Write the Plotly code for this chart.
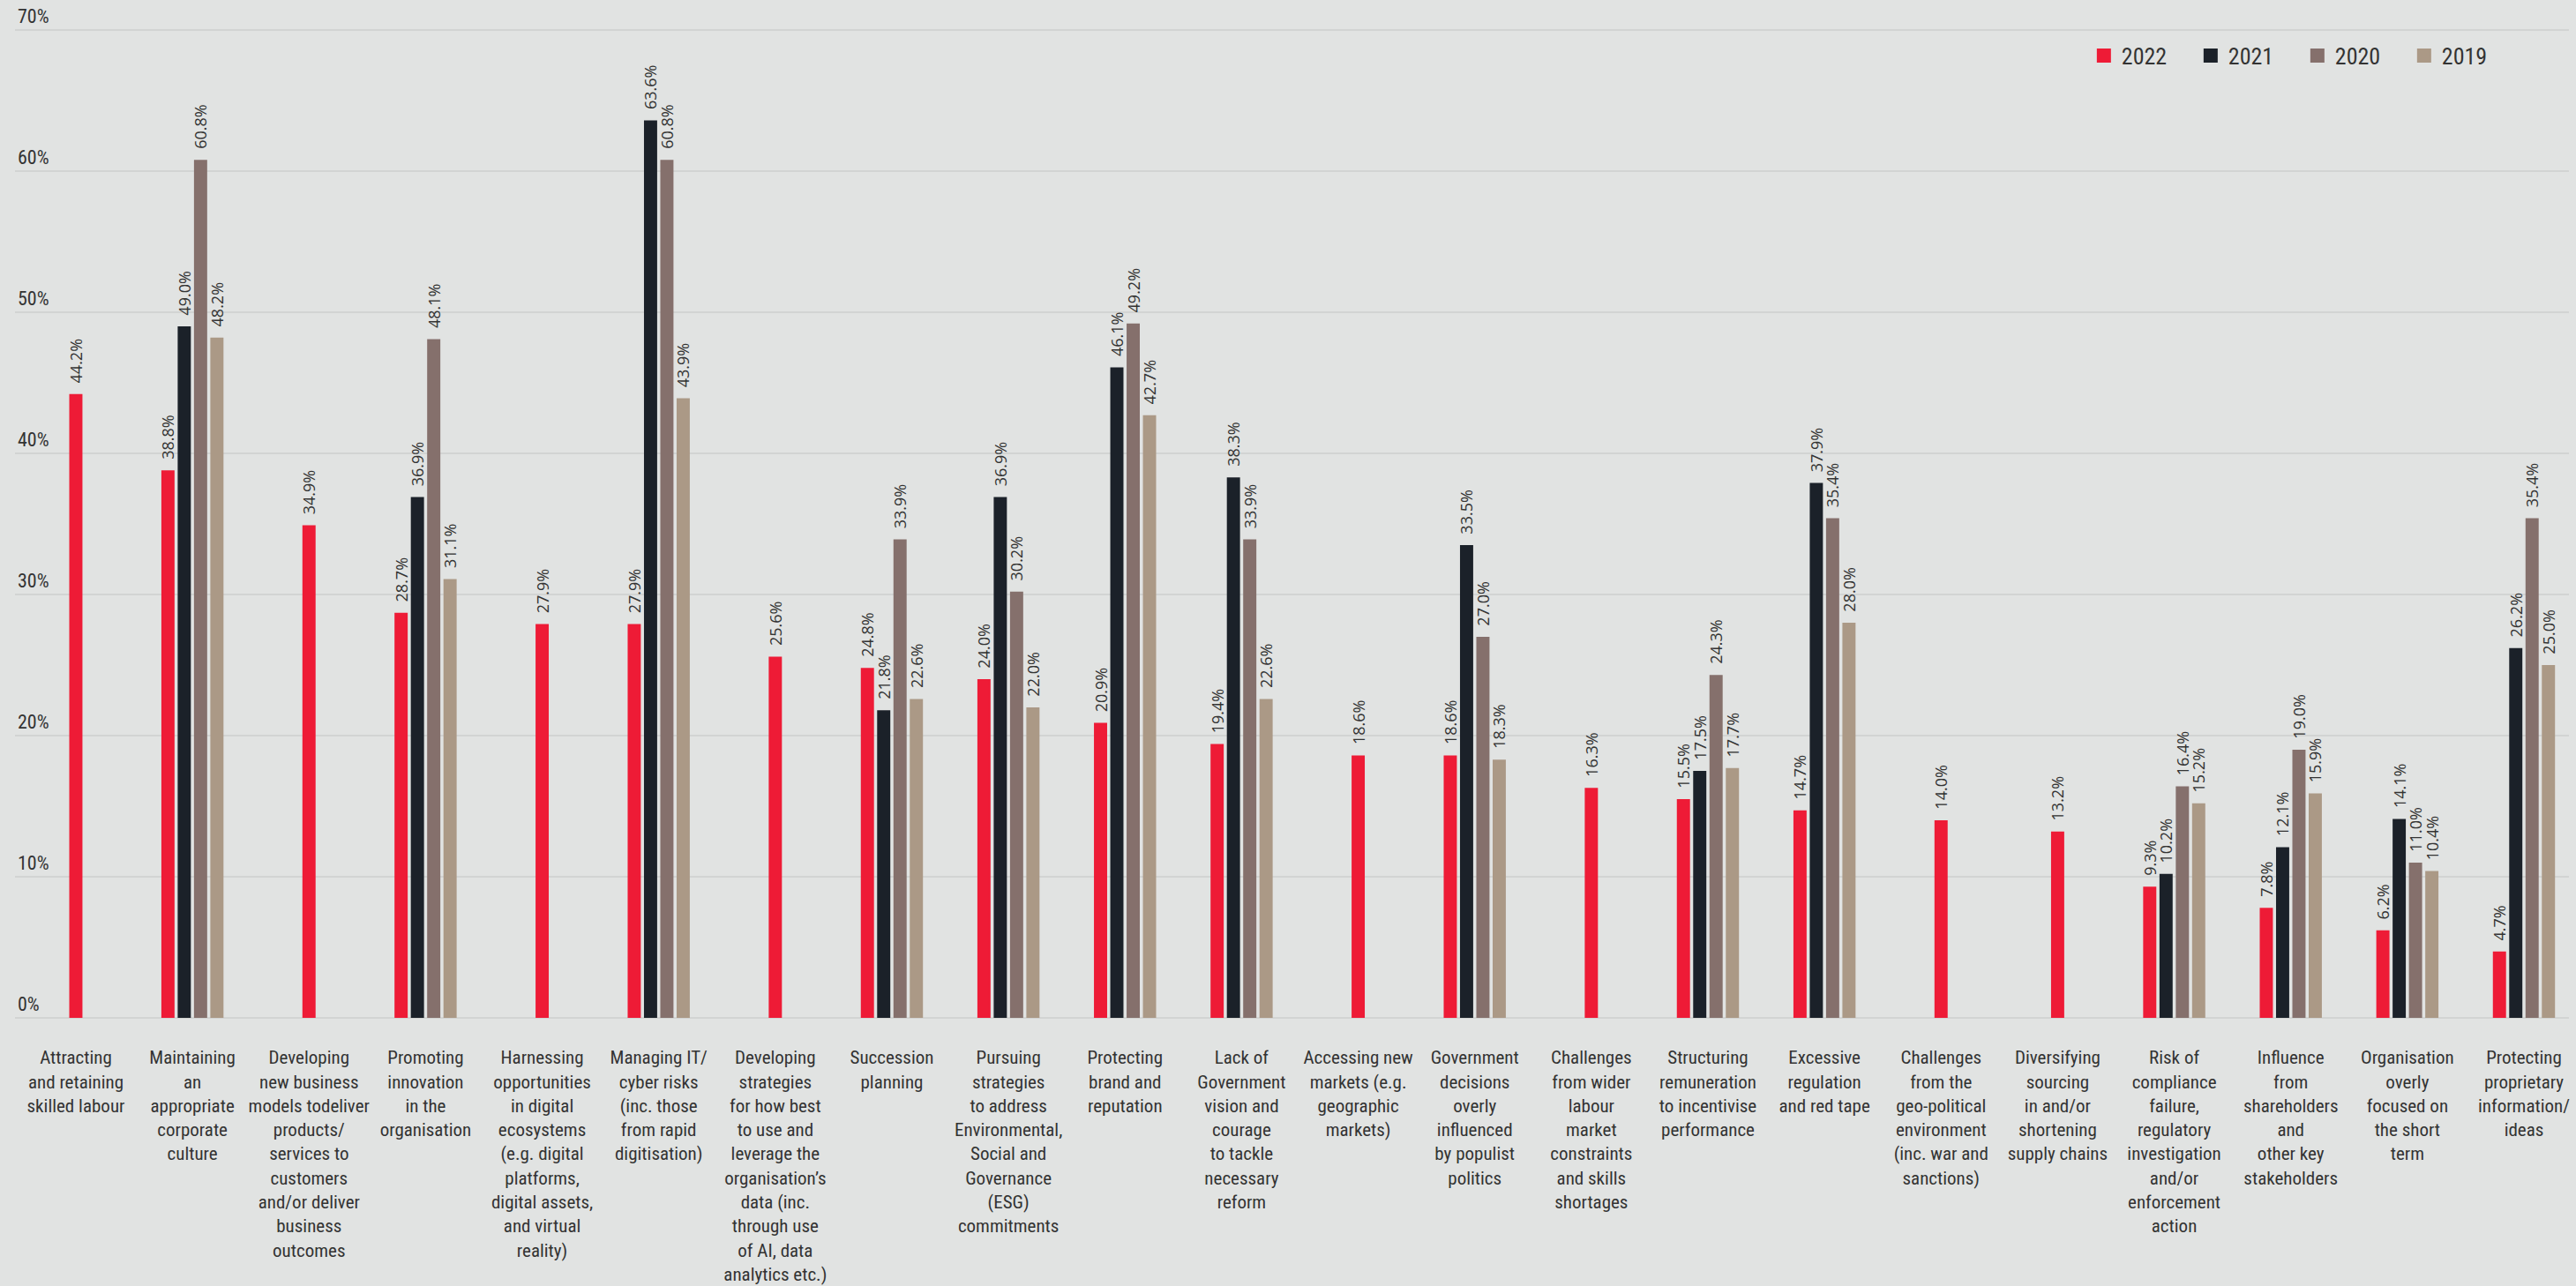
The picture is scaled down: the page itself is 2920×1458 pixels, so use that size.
import plotly.graph_objects as go

categories = [
    "Attracting<br>and retaining<br>skilled labour",
    "Maintaining<br>an<br>appropriate<br>corporate<br>culture",
    "Developing<br>new business<br>models todeliver<br>products/<br>services to<br>customers<br>and/or deliver<br>business<br>outcomes",
    "Promoting<br>innovation<br>in the<br>organisation",
    "Harnessing<br>opportunities<br>in digital<br>ecosystems<br>(e.g. digital<br>platforms,<br>digital assets,<br>and virtual<br>reality)",
    "Managing IT/<br>cyber risks<br>(inc. those<br>from rapid<br>digitisation)",
    "Developing<br>strategies<br>for how best<br>to use and<br>leverage the<br>organisation’s<br>data (inc.<br>through use<br>of AI, data<br>analytics etc.)",
    "Succession<br>planning",
    "Pursuing<br>strategies<br>to address<br>Environmental,<br>Social and<br>Governance<br>(ESG)<br>commitments",
    "Protecting<br>brand and<br>reputation",
    "Lack of<br>Government<br>vision and<br>courage<br>to tackle<br>necessary<br>reform",
    "Accessing new<br>markets (e.g.<br>geographic<br>markets)",
    "Government<br>decisions<br>overly<br>influenced<br>by populist<br>politics",
    "Challenges<br>from wider<br>labour<br>market<br>constraints<br>and skills<br>shortages",
    "Structuring<br>remuneration<br>to incentivise<br>performance",
    "Excessive<br>regulation<br>and red tape",
    "Challenges<br>from the<br>geo-political<br>environment<br>(inc. war and<br>sanctions)",
    "Diversifying<br>sourcing<br>in and/or<br>shortening<br>supply chains",
    "Risk of<br>compliance<br>failure,<br>regulatory<br>investigation<br>and/or<br>enforcement<br>action",
    "Influence<br>from<br>shareholders<br>and<br>other key<br>stakeholders",
    "Organisation<br>overly<br>focused on<br>the short<br>term",
    "Protecting<br>proprietary<br>information/<br>ideas",
]

v2022 = [44.2, 38.8, 34.9, 28.7, 27.9, 27.9, 25.6, 24.8, 24.0, 20.9, 19.4,
         18.6, 18.6, 16.3, 15.5, 14.7, 14.0, 13.2, 9.3, 7.8, 6.2, 4.7]
v2021 = [None, 49.0, None, 36.9, None, 63.6, None, 21.8, 36.9, 46.1, 38.3,
         None, 33.5, None, 17.5, 37.9, None, None, 10.2, 12.1, 14.1, 26.2]
v2020 = [None, 60.8, None, 48.1, None, 60.8, None, 33.9, 30.2, 49.2, 33.9,
         None, 27.0, None, 24.3, 35.4, None, None, 16.4, 19.0, 11.0, 35.4]
v2019 = [None, 48.2, None, 31.1, None, 43.9, None, 22.6, 22.0, 42.7, 22.6,
         None, 18.3, None, 17.7, 28.0, None, None, 15.2, 15.9, 10.4, 25.0]

years = ["2022", "2021", "2020", "2019"]
colors = ["#EE1B36", "#1B2129", "#85706C", "#AB9986"]
y_ticks = [0, 10, 20, 30, 40, 50, 60, 70]
y_tick_text = ["0%", "10%", "20%", "30%", "40%", "50%", "60%", "70%"]

BAR_W = 0.113
PITCH = 0.14
start = -(3 * PITCH + BAR_W) / 2

fig = go.Figure()
series = [v2022, v2021, v2020, v2019]
for i, (name, vals, col) in enumerate(zip(years, series, colors)):
    if i == 0:
        offs = [start if v2021[j] is not None else -BAR_W / 2 for j in range(len(vals))]
    else:
        offs = start + i * PITCH
    fig.add_trace(go.Bar(
        x=categories, y=vals, name=name,
        marker=dict(color=col, line=dict(width=0)),
        width=BAR_W, offset=offs,
        texttemplate="\u00a0\u00a0%{y:.1f}%",
        textposition="outside", textangle=-90,
        textfont=dict(family="Open Sans, Noto Sans, sans-serif", size=18, color="#333333"),
        constraintext="none", cliponaxis=False,
        showlegend=False, hoverinfo="skip",
    ))

for name, col in zip(years, colors):
    fig.add_trace(go.Scatter(
        x=[None], y=[None], mode="markers", name=name,
        marker=dict(symbol="square", size=20, color=col),
        showlegend=True,
    ))

label_font = "Liberation Sans Narrow, Roboto Condensed, DejaVu Sans Condensed, Liberation Sans, sans-serif"

fig.update_layout(
    width=2920, height=1458,
    margin=dict(l=17, r=8, t=2, b=304),
    paper_bgcolor="#E1E3E2", plot_bgcolor="#E1E3E2",
    barmode="overlay",
    font=dict(family=label_font, color="#333333"),
    legend=dict(
        orientation="h", x=0.811, y=0.947, xanchor="left", yanchor="middle",
        font=dict(family=label_font, size=26, color="#333333"),
        entrywidth=76, entrywidthmode="pixels",
        bgcolor="rgba(0,0,0,0)",
    ),
    xaxis=dict(
        type="category", range=[-0.522, 21.386],
        showgrid=False, showline=False, zeroline=False,
        ticks="outside", ticklen=26, tickcolor="rgba(0,0,0,0)",
        tickangle=0, automargin=False,
        tickfont=dict(family=label_font, size=21, color="#333333"),
    ),
    yaxis=dict(
        range=[0, 72], tickmode="array", tickvals=y_ticks, ticktext=y_tick_text,
        ticklabelposition="inside top",
        showgrid=True, gridcolor="#D2D4D3", gridwidth=2,
        zeroline=True, zerolinecolor="#D2D4D3", zerolinewidth=2,
        showline=False, automargin=False,
        tickfont=dict(family=label_font, size=22, color="#333333"),
    ),
)

fig.write_html("out.html")
